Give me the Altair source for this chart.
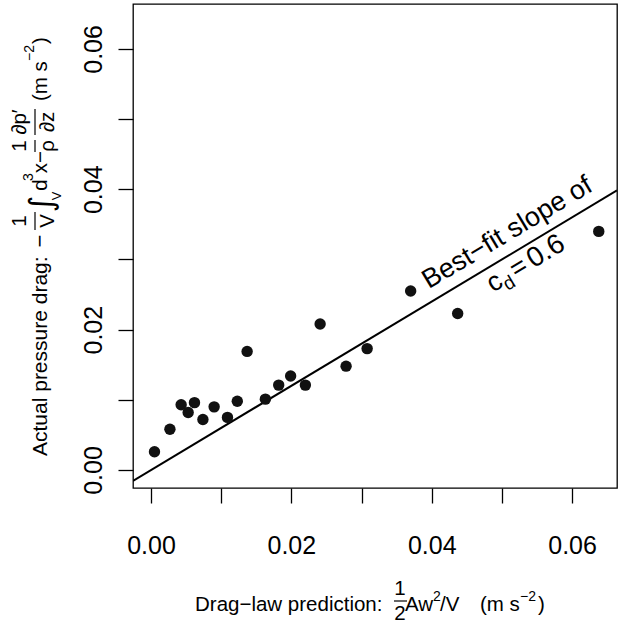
import math
import altair as alt
import pandas as pd

# ---- data -------------------------------------------------------------
# drag-law prediction (1/2 A w^2 / V) and measured pressure drag, m s^-2
pred = [0.0005, 0.0027, 0.0043, 0.0053, 0.0062, 0.0074, 0.0090, 0.0109, 0.0123, 0.0137,
        0.0163, 0.0182, 0.0199, 0.0220, 0.0241, 0.0278, 0.0308, 0.0370, 0.0437, 0.0638]
actual = [0.0026, 0.0058, 0.0093, 0.0082, 0.0096, 0.0072, 0.0090, 0.0075, 0.0098, 0.0169,
          0.0101, 0.0121, 0.0134, 0.0121, 0.0208, 0.0148, 0.0173, 0.0255, 0.0223, 0.0340]
cd_slope = 0.6
tick_values = [0.00, 0.01, 0.02, 0.03, 0.04, 0.05, 0.06]

# ---- layout -----------------------------------------------------------
FONT = "Liberation Sans"
PAD_L, PAD_T = 133, 4
W, H = 484, 484
DOMAIN = [-0.00256, 0.0664]
TITLE_SIZE = 20.5

pts = pd.DataFrame({"pred": pred, "actual": actual})
fit = pd.DataFrame({"pred": DOMAIN, "actual": [cd_slope * v for v in DOMAIN]})

label_expr = "round(datum.value * 100) % 2 == 0 ? format(datum.value, '.2f') : ''"

xscale = alt.Scale(domain=DOMAIN, nice=False, zero=False)
yscale = alt.Scale(domain=DOMAIN, nice=False, zero=False)

x_axis = alt.Axis(values=tick_values, labelExpr=label_expr, labelPadding=50,
                  labelBaseline="alphabetic", labelAlign="center", title=None)
y_axis = alt.Axis(values=tick_values, labelExpr=label_expr, labelPadding=17,
                  labelAngle=270, labelAlign="center", labelBaseline="alphabetic",
                  title=None)

points = alt.Chart(pts).mark_circle(size=130, opacity=1, color="#111111").encode(
    x=alt.X("pred:Q", scale=xscale, axis=x_axis),
    y=alt.Y("actual:Q", scale=yscale, axis=y_axis),
)

line = alt.Chart(fit).mark_line(color="black", strokeWidth=2, clip=True).encode(
    x=alt.X("pred:Q", scale=xscale),
    y=alt.Y("actual:Q", scale=yscale),
)

# annotation laid along the fitted line
ang = 360 - math.degrees(math.atan(cd_slope * H / W))
anchor_x = 0.0520
anno_df = pd.DataFrame({"pred": [anchor_x], "actual": [cd_slope * anchor_x]})


def along(text, size, dx, dy, align="center"):
    return alt.Chart(anno_df).mark_text(
        text=text, font=FONT, fontSize=size, angle=ang, align=align,
        baseline="alphabetic", dx=dx, dy=dy, color="black",
    ).encode(x=alt.X("pred:Q", scale=xscale), y=alt.Y("actual:Q", scale=yscale))


annotation = [
    along("Best\u2212fit slope of", 27, 2, -12),
    along("c", 27, -41, 24, "left"),
    along("d", 19, -27.5, 30, "left"),
    along("=", 27, -14, 24, "left"),
    along("0.6", 28, 6, 24, "left"),
]

# ---- axis titles built from text pieces --------------------------------
one = alt.Data(values=[{"k": 0}])


def piece(text, x, y, size=TITLE_SIZE, angle=0, align="left", font=FONT):
    return alt.Chart(one).mark_text(
        text=text, font=font, fontSize=size, angle=angle, align=align,
        baseline="alphabetic", color="black",
    ).encode(x=alt.value(x - PAD_L), y=alt.value(y - PAD_T))


def bar(x1, x2, y1, y2):
    return alt.Chart(one).mark_rule(color="black", strokeWidth=1.2).encode(
        x=alt.value(x1 - PAD_L), x2=alt.value(x2 - PAD_L),
        y=alt.value(y1 - PAD_T), y2=alt.value(y2 - PAD_T),
    )


# x title: Drag-law prediction: 1/2 A w^2 / V  (m s^-2)
XB = 611
x_title = [
    piece("Drag\u2212law prediction:", 195, XB),
    piece("1", 400, 595, align="center"),
    bar(394, 407, 601, 601),
    piece("2", 400, 620, align="center"),
    piece("Aw", 405, XB),
    piece("2", 433, 601, size=14),
    piece("/V", 440, XB),
    piece("(m s", 480, XB),
    piece("\u22122", 520, 601, size=14),
    piece(")", 538, XB),
]

# y title: Actual pressure drag: -1/V \int_V d^3x  - 1/rho dp'/dz  (m s^-2)
YB = 47
R = 270
y_title = [
    piece("Actual pressure drag:", YB, 456, size=21, angle=R),
    piece("\u2212", YB, 241, size=22, angle=R, align="center"),
    piece("1", 26, 221, angle=R, align="center"),
    bar(35, 35, 212, 230),
    piece("V", 54, 221, angle=R, align="center"),
    piece("\u222b", 52, 204, size=32, angle=R, align="center", font="DejaVu Sans"),
    piece("V", 61, 196, size=13, angle=R, align="center"),
    piece("d", YB, 185, angle=R, align="center"),
    piece("3", 33, 177, size=14, angle=R, align="center"),
    piece("x", YB, 168, angle=R, align="center"),
    piece("\u2212", YB, 157, angle=R, align="center"),
    piece("1", 26, 146, angle=R, align="center"),
    bar(35, 35, 140, 152),
    piece("\u03c1", 54, 146, angle=R, align="center"),
    piece("\u2202p\u2032", 26, 122, angle=R, align="center"),
    bar(35, 35, 109, 135),
    piece("\u2202z", 54, 122, angle=R, align="center"),
    piece("(m s", YB, 101, angle=R),
    piece("\u22122", 34, 61, size=14, angle=R),
    piece(")", YB, 44, angle=R),
]

chart = alt.layer(line, points, *annotation, *x_title, *y_title).properties(
    width=W, height=H,
    autosize=alt.AutoSizeParams(type="none"),
    padding={"left": PAD_L, "top": PAD_T, "right": 620 - PAD_L - W, "bottom": 623 - PAD_T - H},
).configure_view(
    stroke="black", strokeWidth=1.3,
).configure_axis(
    domain=False, grid=False, tickColor="black", tickWidth=1.3, tickSize=15,
    labelFont=FONT, labelFontSize=25, labelColor="black",
    labelOverlap=False, labelFlush=False,
)

chart.save("out.html", embed_options={"renderer": "svg", "actions": False})
